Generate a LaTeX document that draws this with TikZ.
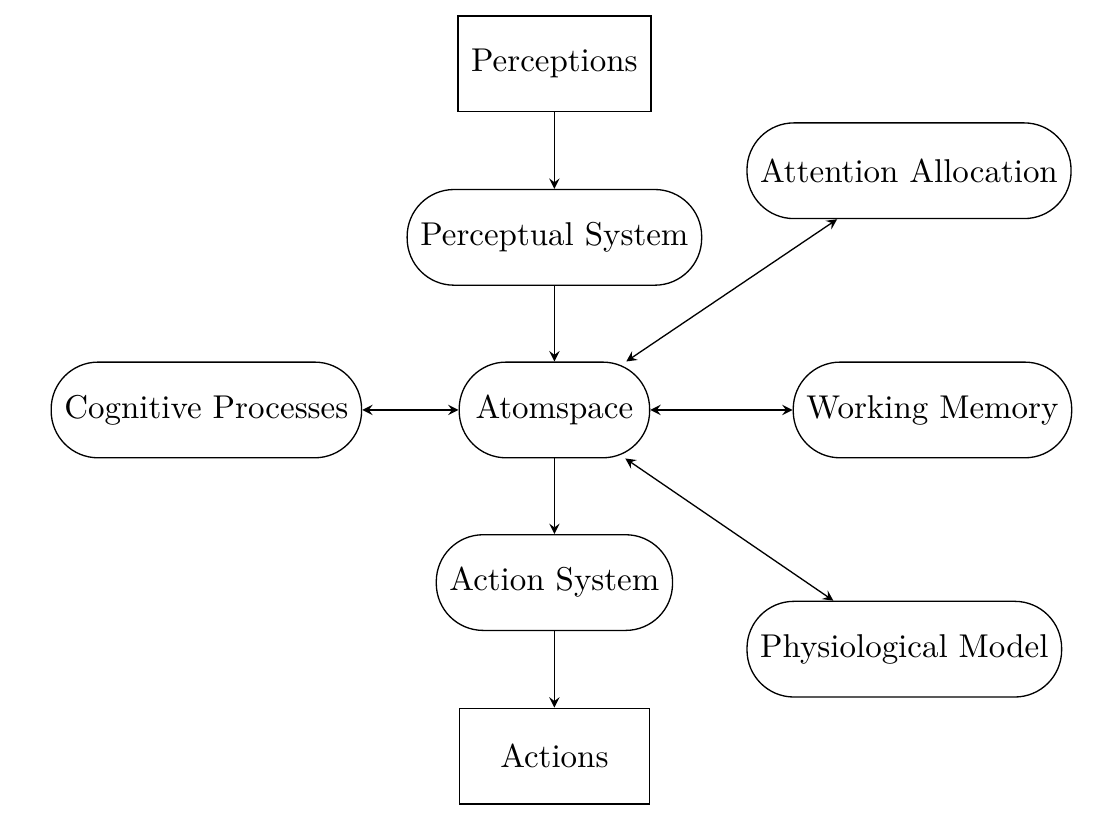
\documentclass[tikz,border=0pt]{standalone}
\usetikzlibrary{arrows}

\begin{document}
\begin{tikzpicture}[>=stealth,
  block/.style={draw, rectangle, minimum width=2.03cm, minimum height=1.02cm, inner xsep=4pt},
  process/.style={block, rounded corners=0.5cm}]

  \useasboundingbox (-5.91,-4.48) rectangle (5.88,4.37);

  \node[block]   (perc)   at (0,3.69)      {Perceptions};
  \node[process] (psys)   at (0,1.84)      {Perceptual System};
  \node[process] (atom)   at (0,0)         {Atomspace};
  \node[process] (asys)   at (0,-1.84)     {Action System};
  \node[block]   (act)    at (0,-3.69)     {Actions};

  \node[process] (cog)    at (-3.71,0)     {Cognitive Processes};
  \node[process] (wmem)   at (4.03,0)      {Working Memory};
  \node[process] (attn)   at (3.78,2.55)   {Attention Allocation};
  \node[process] (phys)   at (3.73,-2.55)  {Physiological Model};

  \draw[->] (perc) -- (psys);
  \draw[->] (psys) -- (atom);
  \draw[->] (atom) -- (asys);
  \draw[->] (asys) -- (act);

  \draw[<->] (cog) -- (atom);
  \draw[<->] (atom) -- (wmem);
  \draw[<->] (atom) -- (attn);
  \draw[<->] (atom) -- (phys);

\end{tikzpicture}
\end{document}
